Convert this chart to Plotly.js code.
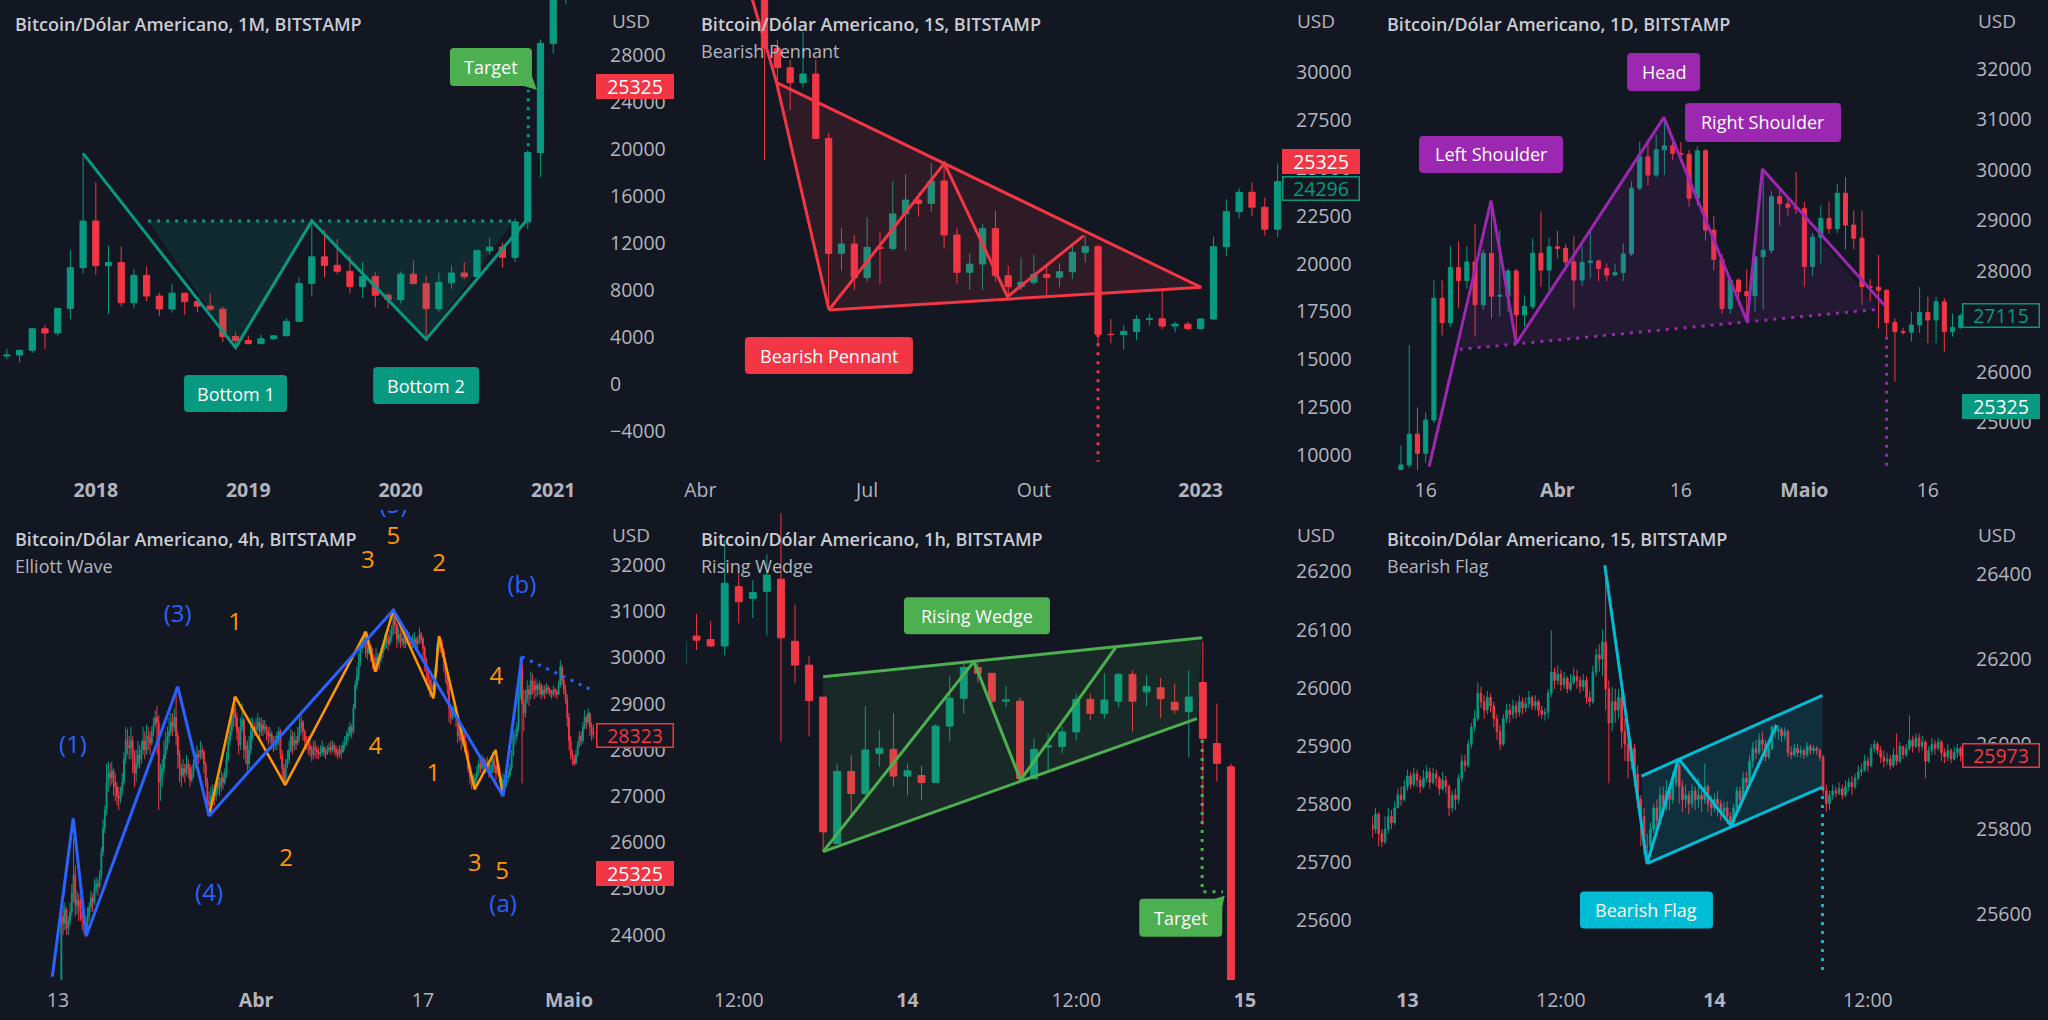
<!DOCTYPE html>
<html><head><meta charset="utf-8">
<script src="https://cdn.plot.ly/plotly-3.0.1.min.js"></script>
<style>html,body{margin:0;padding:0;background:#131722;} #chart{width:2048px;height:1020px;}</style>
</head><body><div id="chart"></div>
<script>
// ================= DATA =================
// Panel 1: monthly candles, x index 0 = Jun 2017
const p1_open  = [2380,2460,2870,4700,4340,6440,9900,13870,10070,10330,6920,9240,7490,6390,7730,7010,6630,6370,4040,3700,3440,3850,4100,5330,8560,10820,10100,9590,8290,9150,7560,7190,9350,8540,6410,8630,9450,9140,11350,11650,10780,13800,19700,28990,33100];
const p1_high  = [2980,2950,4750,5000,6450,11400,19660,17180,11780,11700,9770,9990,7770,8500,7760,7410,7680,6580,4400,4100,4200,4130,5630,9070,13880,13130,12330,10950,10370,9510,7750,9580,10500,9190,9460,10070,10380,11440,12470,12050,14100,19900,29300,41950,58300];
const p1_low   = [2100,1850,2650,2970,4100,5520,9400,9300,5930,6600,6430,7050,5780,6070,5880,6110,6200,3560,3120,3350,3390,3730,4090,5330,7450,9070,9350,7730,7300,6530,6430,6860,8450,3800,6150,8110,8900,8970,11000,9880,10380,13200,17600,28130,32300];
const p1_close = [2460,2870,4700,4340,6440,9900,13870,10070,10330,6920,9240,7490,6390,7730,7010,6630,6370,4040,3700,3440,3850,4100,5330,8560,10820,10100,9590,8290,9150,7560,7190,9350,8540,6410,8630,9450,9140,11350,11650,10780,13800,19700,28990,33100,45200];
const p1_tickpos = [7, 19, 31, 43];
const p1_ticktext = ['<b>2018</b>','<b>2019</b>','<b>2020</b>','<b>2021</b>'];
const p1_yticks = [-4000,0,4000,8000,12000,16000,20000,24000,28000];
const p1_wave_x = [6, 18, 24, 33, 41.04], p1_wave_y = [19630, 3092, 13870, 3800, 14100];
const p1_fill_x = [11.12, 18, 24, 33, 39.9], p1_fill_y = [13870, 3092, 13870, 3800, 13870];
const p1_neck_x = [11.12, 39.9], p1_neck_y = [13870, 13870];
const p1_tgt_x = [41.04, 41.04], p1_tgt_y = [14100, 25020];

// Panel 2: weekly candles, x index 0 = week of 4 Apr 2022 (data from index 3)
const p2_first = 3;
const p2_open  = [39400,38500,34000,31250,30240,29460,29910,26550,20540,21030,19270,20855,20800,22600,23330,23150,24320,21500,19550,19980,21830,19370,18800,19030,19440,19290,19580,20590,20890,16310,16300,16460,17090,17120,16740,16840,16610,17110,20890,22720,23730,22950,21800];
const p2_high  = [40800,40000,34300,31690,30640,32125,30650,26810,21880,21500,22420,21640,24290,24690,23680,25240,25240,21880,20540,22070,22770,19880,20330,20470,19990,20020,21060,21500,21010,17110,16800,17300,17390,18650,16960,16960,17150,21400,23360,23940,24250,23450,25240];
const p2_low   = [37600,33700,25420,28990,28030,29215,26500,17580,19630,18620,19060,18940,20680,20680,22460,22700,20800,18970,18620,18620,19060,18280,18620,18890,18350,18770,19200,20070,15720,15840,15520,16000,16780,16570,16400,16500,16560,17060,20400,22370,22490,21480,21380];
const p2_close = [38500,34000,31250,30240,29460,29910,26550,20540,21030,19270,20855,20800,22600,23330,23150,24320,21500,19550,19980,21830,19370,18800,19030,19440,19290,19580,20590,20890,16310,16300,16460,17090,17120,16740,16840,16610,17110,20890,22720,23730,22950,21800,24296];
const p2_tickpos = [0, 13, 26, 39];
const p2_ticktext = ['Abr','Jul','Out','<b>2023</b>'];
const p2_yticks = [10000,12500,15000,17500,20000,22500,25000,27500,30000];
const p2_pole_x = [4.07, 5.94, 10.02], p2_pole_y = [33780, 29460, 17580];
const p2_up_x = [5.94, 39.05], p2_up_y = [29460, 18764];
const p2_lo_x = [10.02, 39.05], p2_lo_y = [17580, 18764];
const p2_zig_x = [10.02, 19.02, 23.94, 29.88], p2_zig_y = [17580, 25244, 18276, 21464];
const p2_fill_x = [5.94, 39.05, 10.02], p2_fill_y = [29460, 18764, 17580];
const p2_tgt_x = [31, 31], p2_tgt_y = [16310, 9650];

// Panel 3: daily candles, x = days from 16 Mar 2023 (data from -3)
const p3_first = -3;
const p3_open  = [22100,24160,24770,24390,25050,27460,26980,28070,27810,28180,27330,28350,27500,27500,28000,27130,27300,28350,28020,28480,28450,28180,27820,28170,28200,28050,27920,27970,28340,29640,30260,29900,30400,30480,30330,30310,29440,30380,28810,28230,27260,27820,27590,27510,28280,28410,29470,29330,29260,29240,28090,28670,29040,28840,29540,28910,28650,27690,27680,27620,26980,26800,26790,26930,27180,27030,27390,26800,26880];
const p3_high  = [24550,26535,25300,25200,27820,27820,28490,28590,28490,28930,28420,29390,28810,28050,28040,27520,28650,29180,28660,28800,28530,28680,28500,28780,28230,28150,28150,28550,29780,30560,30560,30700,31027,30600,30550,30400,30470,30420,29090,28330,27890,27850,28030,28310,30020,29580,29650,29450,29960,29370,28750,29290,29370,29720,29860,29200,29190,27840,28320,27620,27060,26880,27200,27680,27490,27490,27460,27160,27160];
const p3_low   = [21900,24100,23950,24200,24990,26720,26900,27260,27650,26700,27230,27060,27100,27190,26570,26900,27250,27690,27550,28250,28000,27260,27700,27850,27800,27800,27900,27800,28300,29600,29690,29850,29900,30200,30150,29270,29300,28600,28020,27150,27150,27330,27000,27200,27240,28350,28900,29100,29130,27690,27900,28150,28740,28750,28430,28430,27330,27400,26860,26700,25810,26740,26600,26770,26570,26570,26400,26700,26860];
const p3_close = [24160,24770,24390,25050,27460,26980,28070,27810,28180,27330,28350,27500,27520,28000,27130,27300,28350,28020,28480,28450,28180,27820,28170,28200,28050,27920,27970,28340,29640,30260,29900,30400,30480,30330,30310,29440,30380,28810,28230,27260,27820,27590,27510,28280,28410,29470,29330,29260,29240,28090,28670,29040,28840,29540,28910,28650,27690,27680,27620,26980,26800,26790,26930,27180,27030,27390,26800,26880,27115];
const p3_tickpos = [0, 16, 31, 46, 61];
const p3_ticktext = ['16','<b>Abr</b>','16','<b>Maio</b>','16'];
const p3_yticks = [25000,26000,27000,28000,29000,30000,31000,32000];
const p3_hs_x = [0.42, 7.94, 11.0, 28.94, 39.05, 40.9, 55.71], p3_hs_y = [24126, 29393, 26568, 31043, 26997, 30020, 27327];
const p3_neck_x = [4.13, 54.92], p3_neck_y = [26449, 27241];
const p3_fill_x = [4.13, 7.94, 11.0, 28.94, 39.05, 40.9, 54.92], p3_fill_y = [26449, 29393, 26568, 31043, 26997, 30020, 27241];
const p3_tgt_x = [55.98, 55.98], p3_tgt_y = [26700, 24126];

// Panel 4: 4h candles, x = days from 13 Mar 2023 00:00, 6 candles per day
const p4_firstOpen = 22100;
const p4_close = [
22350,22500,24400,24250,24550,24150, 24300,24500,24900,25300,24650,24750, 24600,24500,24350,24250,24100,24400,
24600,24800,24700,25000,25100,25050, 25300,25800,26300,26700,27300,27500, 27400,27550,27300,27200,27000,26950,
27100,27300,27800,28200,28100,28050, 28200,27900,27500,27700,27900,27800, 28000,28200,28000,28300,28250,28150,
28400,28550,28700,28600,27300,27400, 27600,27900,28100,28300,28400,28600, 28500,28700,28300,27900,27600,27450,
27600,27500,27700,27600,27350,27500, 27700,27800,27900,27850,28000,27950, 27700,27300,26900,26800,27000,27050,
27000,27150,27300,27200,27400,27300, 27500,27800,28200,28400,28700,28900, 28700,28400,28100,28500,28650,28000,
28100,27700,28000,28400,28500,28450, 28500,28600,28400,28550,28450,28500, 28400,28300,28350,28200,28100,28150,
28300,28400,27900,27600,27300,27700, 27800,28000,28300,28100,28200,28150, 28300,28500,28600,28400,28200,28150,
28100,28000,27900,28050,28000,27950, 27900,27950,28050,27950,27900,28000, 28050,28000,28100,28000,27950,27900,
28000,27950,28100,28150,28300,28350, 28500,28400,28900,29400,29600,29900, 30200,30300,30500,30200,30100,30250,
30100,29900,29750,30000,29850,29950, 30100,30200,30350,30400,30300,30450, 30600,30900,30700,30400,30500,30350,
30400,30300,30350,30450,30400,30300, 30350,30400,30300,30350,30500,30400, 30200,29900,29700,29500,29300,29400,
29300,29700,30200,30400,30300,30150, 29900,29600,29400,28900,28700,28800, 28900,28700,28300,28400,28200,28300,
28100,27900,27600,27400,27300,27250, 27400,27500,27700,27600,27800,27750, 27600,27700,27500,27550,27800,27650,
27500,27600,27400,27200,27350,27300, 27400,27450,27600,27900,28300,28300, 28500,29200,29800,29000,28800,29100,
29300,29200,29500,29400,29300,29400, 29300,29400,29200,29300,29250,29350, 29300,29250,29200,29300,29250,29200,
29400,29800,29500,29300,29100,28700, 28200,27900,27800,27700,27900,28100, 28300,28200,28500,28700,28600,28800,
28500,28400,28323];
const p4_high = [
22500,22700,24600,24650,24700,24600, 24400,24700,25100,26100,25500,24950, 24900,24800,24700,24500,24400,24600,
24700,24950,24900,25200,25250,25200, 25400,25900,26500,26800,27700,27750, 27700,27750,27600,27500,27300,27200,
27200,27500,27950,28500,28450,28300, 28500,28300,28000,28000,28200,28100, 28200,28500,28400,28550,28500,28400,
28500,28700,28850,28950,28750,27700, 27800,28200,28400,28500,28700,28800, 28800,28900,29370,28400,28000,27700,
27800,27700,27900,27800,27700,27650, 27800,27950,28100,28000,28200,28100, 28000,27750,27400,27100,27200,27250,
27250,27300,27450,27400,27550,27500, 27600,27950,28300,28600,28900,29150, 29000,28800,28500,28700,29000,28700,
28300,28200,28300,28700,28700,28600, 28700,28800,28700,28700,28650,28650, 28550,28500,28500,28400,28300,28300,
28400,28500,28450,28000,27700,27800, 28000,28200,28450,28400,28400,28300, 28500,28700,28750,28650,28450,28300,
28300,28200,28100,28200,28200,28100, 28050,28100,28200,28100,28050,28100, 28150,28200,28200,28150,28100,28050,
28100,28100,28200,28300,28400,28500, 28600,28550,29000,29500,29800,30100, 30400,30450,30560,30550,30350,30400,
30300,30200,30050,30200,30100,30100, 30200,30300,30500,30600,30500,30600, 30700,31027,30950,30750,30650,30600,
30550,30450,30500,30600,30550,30450, 30500,30550,30450,30450,30650,30550, 30450,30250,30000,29800,29600,29550,
29500,29800,30300,30464,30450,30400, 30200,30000,29700,29450,29000,28950, 29000,28950,28800,28600,28500,28450,
28350,28200,28000,27700,27500,27450, 27500,27650,27800,27800,27900,27850, 27800,27850,27700,27700,27950,27850,
27700,27750,27650,27450,27500,27450, 27500,27550,27700,28000,28400,28450, 28600,29400,30017,29900,29300,29300,
29500,29400,29700,29650,29500,29550, 29450,29500,29450,29400,29400,29450, 29400,29350,29300,29400,29350,29300,
29500,29945,29850,29550,29400,29200, 28800,28300,28000,27900,28000,28200, 28400,28400,28600,28860,28750,28900,
28800,28600,28550];
const p4_low = [
21900,22200,22450,24000,24100,24000, 24000,24200,24400,24700,24400,24450, 24300,24300,24100,24000,23950,24050,
24300,24500,24500,24650,24900,24850, 25000,25200,25700,26200,26600,27100, 27200,27250,27000,26900,26800,26700,
26850,27000,27250,27700,27900,27800, 27800,27500,27200,27300,27600,27600, 27700,27900,27800,27900,28000,27900,
28100,28300,28500,27900,26700,26900, 27200,27500,27800,28000,28150,28300, 28300,28400,28100,27600,27300,27200,
27400,27300,27450,27400,27200,27300, 27400,27600,27700,27700,27800,27800, 27500,27200,26600,26600,26750,26850,
26800,26900,27050,27000,27100,27150, 27250,27400,27750,28100,28300,28500, 28500,28200,27900,28000,28400,27800,
27700,27550,27600,27900,28200,28300, 28300,28400,28250,28300,28300,28350, 28200,28100,28150,28000,27950,28000,
28000,28100,27800,27400,27240,27250, 27600,27700,27950,27900,28000,28000, 28100,28200,28350,28200,28100,28000,
27900,27850,27750,27800,27850,27800, 27800,27850,27900,27850,27800,27900, 27950,27900,27950,27900,27850,27800,
27850,27800,27950,28000,28100,28200, 28300,28250,28350,28900,29300,29500, 29800,30100,30200,30000,29950,30050,
29900,29750,29690,29700,29700,29750, 29900,30000,30150,30200,30150,30250, 30350,30500,30500,30200,30300,30200,
30250,30200,30200,30300,30250,30200, 30200,30250,30200,30200,30300,30300, 30000,29700,29500,29300,29150,29150,
29117,29200,29650,30100,30100,30000, 29700,29450,29200,28600,28550,28650, 28700,28500,28150,28200,28000,28100,
27950,27800,27500,27250,27150,27150, 27200,27300,27450,27500,27550,27600, 27500,27500,27400,27400,27500,27500,
27350,27450,27300,27000,27100,27150, 27200,27300,27400,27550,27850,28100, 28200,28400,29100,27280,28400,28700,
29000,28950,29100,29200,29100,29150, 29150,29200,29100,29150,29100,29200, 29200,29150,29100,29150,29150,29100,
29200,29350,29400,29200,29000,28500, 28000,27800,27670,27650,27700,27850, 28050,28100,28150,28450,28450,28550,
28300,28200,28250];
const p4_tickpos = [0, 19, 35, 49];
const p4_ticktext = ['13','<b>Abr</b>','17','<b>Maio</b>'];
const p4_yticks = [24000,25000,26000,27000,28000,29000,30000,31000,32000];
const p4_wave_x = [-0.54, 1.47, 2.72, 11.49, 14.5, 32.16, 42.68, 44.48], p4_wave_y = [23095, 26521, 23975, 29368, 26571, 31027, 27004, 30017];
const p4_proj_x = [44.48, 51.2], p4_proj_y = [30017, 29296];
const p4_sub_x = [14.5, 17.0, 21.8, 29.53, 30.44, 32.16, 36.0, 36.54, 39.96, 41.96, 42.68];
const p4_sub_y = [26571, 29152, 27241, 30558, 29693, 31027, 29117, 30464, 27148, 27998, 27004];
const p4_blue_labels = [['(1)',1.45,28070],['(3)',11.49,30897],['(4)',14.49,24862],['(5)',32.16,33255],['(a)',42.68,24624],['(b)',44.48,31518]];
const p4_orange_labels = [['1',17.0,30724],['2',21.87,25619],['3',29.73,32072],['4',30.44,28035],['5',32.16,32578],['1',36.0,27458],['2',36.54,32000],['3',39.96,25511],['4',42.05,29549],['5',42.6,25344]];

// Panel 5: 1h candles, x = hours from 13th 12:00 (data from -4)
const p5_first = -4;
const p5_open  = [26040,26089,26083,26072,26174,26154,26166,26187,26080,26039,25984,25732,25856,25818,25887,25894,25848,25849,25837,25934,25982,26035,26025,25977,25977,25844,25898,25899,25924,25980,25956,25977,26023,25993,26000,25975,25959,26009,25904,25864];
const p5_high  = [26085,26127,26115,26254,26200,26185,26230,26300,26143,26054,25984,25870,25884,25968,25927,25956,25870,25866,25937,26020,26045,26048,26025,26003,25983,25913,25922,25933,25990,25990,26025,26025,26030,26022,26017,26007,26030,26079,25973,25870];
const p5_low   = [26030,26065,26070,26056,26111,26120,26090,25907,26008,25916,25718,25732,25781,25815,25864,25830,25815,25807,25837,25908,25955,26009,25965,25966,25840,25843,25858,25887,25910,25944,25947,25966,25925,25968,25948,25955,25880,25764,25839,25400];
const p5_close = [26080,26082,26072,26180,26148,26164,26194,26086,26039,25978,25752,25856,25818,25893,25896,25848,25857,25837,25934,25982,26035,26025,25977,25979,25844,25894,25900,25924,25980,25956,25979,26023,25977,26002,25981,25962,25984,25913,25870,25480];
const p5_tickpos = [0, 12, 24, 36];
const p5_ticktext = ['12:00','<b>14</b>','12:00','<b>15</b>'];
const p5_yticks = [25600,25700,25800,25900,26000,26100,26200];
const p5_up_x = [6.0, 32.96], p5_up_y = [26019, 26086];
const p5_lo_x = [6.0, 32.58], p5_lo_y = [25718, 25947];
const p5_fill_x = [6.0, 32.96, 32.58, 6.0], p5_fill_y = [26019, 26086, 25947, 25718];
const p5_zig_x = [6.0, 16.72, 20.04, 26.85], p5_zig_y = [25718, 26045, 25841, 26071];
const p5_tgt_x = [32.95, 32.95, 34.44], p5_tgt_y = [25910, 25649, 25649];

// Panel 6: 15-min candles, x = hours from 13th 00:00 (data from -2.75, 4 per hour)
const p6_first = -2.75;
const p6_firstOpen = 25810;
const p6_close = [
25800,25835,25790,
25770,25800,25830,25815, 25850,25880,25870,25900, 25925,25905,25930,25915, 25900,25920,25935,25910,
25930,25920,25895,25915, 25900,25850,25880,25870, 25920,25960,25950,26000, 26040,26060,26120,26100,
26080,26110,26090,26060, 26030,26000,26060,26080, 26070,26090,26075,26100, 26085,26095,26110,26090,
26100,26080,26070,26075, 26120,26170,26150,26165, 26140,26155,26130,26145, 26160,26150,26135,26150,
26110,26100,26170,26210, 26200,26240,26130,26050, 26100,26080,26110,26030, 26000,25960,25990,25930,
25870,25830,25760,25760, 25800,25850,25820,25880, 25860,25890,25870,25910, 25950,25900,25870,25880,
25860,25890,25870,25880, 25870,25900,25860,25850, 25870,25860,25840,25850, 25830,25815,25850,25890,
25870,25920,25910,25960, 25990,25980,26010,26000, 25970,25990,26040,26030, 26035,26020,26030,25980,
25975,25990,25980,25985, 25975,25995,25985,25990, 25985,25970,25890,25860, 25880,25890,25885,25895,
25880,25900,25910,25900, 25920,25935,25940,25960, 25950,25990,26000,25985, 25970,25960,25965,25950,
25975,25960,25995,25975, 25990,26010,25995,26015, 25995,26005,25960,25985, 26000,25990,26005,25980,
25970,25985,25965,25980,
25990,25973];
const p6_high = [
25830,25850,25840,
25800,25830,25850,25845, 25865,25895,25900,25915, 25940,25935,25945,25940, 25925,25940,25950,25945,
25945,25940,25925,25935, 25925,25905,25890,25895, 25930,25975,25975,26010, 26050,26080,26145,26135,
26115,26125,26120,26100, 26070,26045,26070,26095, 26095,26105,26100,26115, 26110,26110,26125,26115,
26115,26105,26090,26085, 26130,26268,26180,26185, 26175,26170,26160,26165, 26180,26175,26160,26165,
26160,26125,26185,26225, 26235,26270,26421,26150, 26135,26130,26130,26120, 26060,26030,26010,26000,
25950,25880,25850,25790, 25815,25860,25870,25900, 25900,25915,25905,25935, 25966,25960,25915,25905,
25890,25905,25900,25920, 25890,25955,25905,25880, 25885,25890,25870,25865, 25865,25840,25860,25900,
25900,25935,25935,25975, 26005,26010,26025,26030, 26010,26005,26045,26048, 26045,26040,26040,26035,
25995,26000,26000,25995, 25990,26005,26000,25998, 25995,25990,25975,25905, 25890,25905,25900,25910,
25905,25915,25920,25925, 25930,25950,25955,25975, 25970,26000,26010,26005, 25995,25985,25980,25975,
25990,26025,26005,25995, 26000,26068,26020,26025, 26025,26020,26010,25995, 26015,26010,26015,26010,
25990,26000,25990,25995,
26000,25995];
const p6_low = [
25780,25790,25760,
25758,25765,25790,25800, 25810,25850,25855,25865, 25890,25895,25900,25900, 25885,25895,25910,25895,
25905,25900,25880,25890, 25885,25830,25840,25845, 25860,25910,25935,25945, 25990,26030,26055,26085,
26060,26070,26075,26040, 26010,25986,25995,26050, 26050,26060,26060,26065, 26070,26075,26085,26080,
26080,26065,26060,26055, 26060,26110,26130,26140, 26125,26130,26120,26125, 26140,26130,26120,26125,
26095,26088,26095,26160, 26170,26160,26080,25908, 26030,26050,26060,25990, 25960,25920,25940,25900,
25850,25760,25740,25719, 25740,25790,25806,25810, 25830,25845,25845,25860, 25900,25860,25840,25850,
25835,25850,25845,25850, 25840,25860,25840,25830, 25840,25830,25820,25825, 25812,25809,25810,25845,
25855,25865,25890,25900, 25945,25965,25975,25985, 25960,25965,25985,26015, 26010,26005,26010,25970,
25965,25970,25970,25970, 25965,25970,25975,25978, 25975,25960,25880,25841, 25845,25870,25875,25880,
25870,25875,25890,25880, 25895,25915,25925,25935, 25935,25945,25980,25975, 25955,25945,25950,25940,
25945,25950,25955,25965, 25970,25985,25980,25990, 25980,25985,25920,25955, 25975,25975,25985,25960,
25955,25960,25955,25962,
25968,25960];
const p6_tickpos = [0, 12, 24, 36];
const p6_ticktext = ['<b>13</b>','12:00','<b>14</b>','12:00'];
const p6_yticks = [25600,25800,26000,26200,26400];
const p6_pole_x = [15.43, 18.73], p6_pole_y = [26421, 25719];
const p6_up_x = [18.29, 32.45], p6_up_y = [25925, 26115];
const p6_lo_x = [18.73, 32.45], p6_lo_y = [25719, 25899];
const p6_fill_x = [18.29, 32.45, 32.45, 18.73], p6_fill_y = [25925, 26115, 25899, 25719];
const p6_zig_x = [18.73, 21.2, 25.3, 28.87], p6_zig_y = [25719, 25966, 25809, 26045];
const p6_tgt_x = [32.45, 32.45], p6_tgt_y = [25899, 25460];

// ================= STYLE / LAYOUT =================
const W = 2048, H = 1020;
const BG = '#131722', UP = '#089981', DN = '#f23645';
const TICK = '#b2b5be', TITLE = '#c9ccd4';
const FONT = '"Open Sans", "Noto Sans", sans-serif';
const BLUE = '#2962ff', ORANGE = '#ff9800', GREEN = '#4caf50', PURPLE = '#9c27b0', CYAN = '#00bcd4';

const PANELS = [
  {x0:0,    x1:596,  y0:0,   y1:470, xr:[-0.54, 46.37], yr:[-7319, 32680]},
  {x0:686,  x1:1282, y0:0,   y1:470, xr:[-1.12, 45.34], yr:[9218, 33780]},
  {x0:1372, x1:1962, y0:0,   y1:470, xr:[-6.52, 65.15], yr:[24060, 33366]},
  {x0:0,    x1:596,  y0:510, y1:980, xr:[-5.55, 51.59], yr:[23024, 33190]},
  {x0:686,  x1:1282, y0:510, y1:980, xr:[-3.75, 38.63], yr:[25497, 26306]},
  {x0:1372, x1:1962, y0:510, y1:980, xr:[-2.77, 43.36], yr:[25445, 26551]},
];
const sfx = n => (n === 1 ? '' : String(n));
const traces = [];
const annotations = [];
const shapes = [];
const layout = {
  width: W, height: H, margin: {l:0, r:0, t:0, b:0},
  paper_bgcolor: BG, plot_bgcolor: BG, showlegend: false, hovermode: false,
  font: {family: FONT, color: TICK},
};

function setAxes(n, tickpos, ticktext, yticks) {
  const p = PANELS[n-1];
  const tf = {family: FONT, size: 19.5, color: TICK};
  layout['xaxis' + sfx(n)] = {
    domain: [p.x0 / W, p.x1 / W], range: p.xr, anchor: 'y' + sfx(n),
    showgrid: false, zeroline: false, showline: false, ticks: '',
    tickmode: 'array', tickvals: tickpos, ticktext: ticktext, tickfont: tf,
    rangeslider: {visible: false}, fixedrange: true, automargin: false, ticklabelstandoff: 6,
  };
  layout['yaxis' + sfx(n)] = {
    domain: [1 - p.y1 / H, 1 - p.y0 / H], range: p.yr, anchor: 'x' + sfx(n), side: 'right',
    showgrid: false, zeroline: false, showline: false, ticks: '',
    tickmode: 'array', tickvals: yticks, tickformat: 'd', tickfont: tf,
    fixedrange: true, automargin: false, ticklabelstandoff: 13,
  };
}

function seq(first, step, count) { const a = []; for (let i = 0; i < count; i++) a.push(first + i * step); return a; }

function addCandles(n, x, o, h, l, c) {
  const hh = h.map((v, i) => Math.max(v, o[i], c[i]));
  const ll = l.map((v, i) => Math.min(v, o[i], c[i]));
  traces.push({
    type: 'candlestick', xaxis: 'x' + sfx(n), yaxis: 'y' + sfx(n),
    x: x, open: o, high: hh, low: ll, close: c,
    increasing: {line: {color: UP, width: 1}, fillcolor: UP},
    decreasing: {line: {color: DN, width: 1}, fillcolor: DN},
    whiskerwidth: 0, hoverinfo: 'skip', showlegend: false,
  });
}
function addLine(n, xs, ys, color, width, dash) {
  traces.push({type: 'scatter', mode: 'lines', xaxis: 'x' + sfx(n), yaxis: 'y' + sfx(n),
    x: xs, y: ys, line: {color: color, width: width, dash: dash || 'solid'}, hoverinfo: 'skip', showlegend: false});
}
function addFill(n, xs, ys, fillcolor) {
  traces.push({type: 'scatter', mode: 'lines', xaxis: 'x' + sfx(n), yaxis: 'y' + sfx(n),
    x: xs, y: ys, fill: 'toself', fillcolor: fillcolor, line: {width: 0, color: 'rgba(0,0,0,0)'}, hoverinfo: 'skip', showlegend: false});
}
// rounded label box drawn as a pixel-sized shape anchored at a data point, text as annotation
function roundRectPath(w, h, r) {
  const a = w / 2, b = h / 2;
  return `M${-a + r},${-b} L${a - r},${-b} Q${a},${-b} ${a},${-b + r} L${a},${b - r} Q${a},${b} ${a - r},${b} ` +
         `L${-a + r},${b} Q${-a},${b} ${-a},${b - r} L${-a},${-b + r} Q${-a},${-b} ${-a + r},${-b} Z`;
}
function labelBox(n, x, y, text, bg, w, h, tail) {
  shapes.push({type: 'path', xref: 'x' + sfx(n), yref: 'y' + sfx(n), xsizemode: 'pixel', ysizemode: 'pixel',
    xanchor: x, yanchor: y, path: roundRectPath(w, h, 4), fillcolor: bg, line: {width: 0}, layer: 'above'});
  if (tail) {
    shapes.push({type: 'path', xref: 'x' + sfx(n), yref: 'y' + sfx(n), xsizemode: 'pixel', ysizemode: 'pixel',
      xanchor: x, yanchor: y, path: tail, fillcolor: bg, line: {width: 0}, layer: 'above'});
  }
  annotations.push({xref: 'x' + sfx(n), yref: 'y' + sfx(n), x: x, y: y, text: text, showarrow: false,
    xanchor: 'center', yanchor: 'middle', font: {family: FONT, size: 18, color: '#ffffff'}});
}
function priceTag(n, y, text, color, filled) {
  annotations.push({xref: 'x' + sfx(n) + ' domain', yref: 'y' + sfx(n), x: 1, y: y, text: text, showarrow: false,
    xanchor: 'left', yanchor: 'middle', bgcolor: filled ? color : BG, bordercolor: color, borderwidth: 1.5, borderpad: 0,
    width: 75, height: 22, font: {family: FONT, size: 19.5, color: filled ? '#ffffff' : color}});
}
function pageText(px, py, text, size, color, weight, anchor) {
  annotations.push({xref: 'paper', yref: 'paper', x: px / W, y: 1 - py / H, text: text, showarrow: false,
    xanchor: anchor || 'left', yanchor: 'middle', font: {family: FONT, size: size, color: color, weight: weight || 400}});
}
// wave labels as clipped text traces (so a label at the panel edge is cut like in the reference)
function waveTexts(n, labels, color) {
  traces.push({type: 'scatter', mode: 'text', xaxis: 'x' + sfx(n), yaxis: 'y' + sfx(n),
    x: labels.map(l => l[1]), y: labels.map(l => l[2]), text: labels.map(l => l[0]),
    textposition: 'middle center', textfont: {family: FONT, size: 24, color: color},
    cliponaxis: true, hoverinfo: 'skip', showlegend: false});
}

// ---------- Panel 1 ----------
setAxes(1, p1_tickpos, p1_ticktext, p1_yticks);
addFill(1, p1_fill_x, p1_fill_y, 'rgba(8,153,129,0.15)');
addCandles(1, seq(0, 1, p1_close.length), p1_open, p1_high, p1_low, p1_close);
addLine(1, p1_neck_x, p1_neck_y, UP, 3, '3px,6px');
addLine(1, p1_wave_x, p1_wave_y, UP, 3);
addLine(1, p1_tgt_x, p1_tgt_y, UP, 3, '3px,6px');
labelBox(1, 18.0, -809, 'Bottom 1', UP, 103, 37);
labelBox(1, 33.0, -128, 'Bottom 2', UP, 106, 37);
labelBox(1, 38.1, 26979, 'Target', GREEN, 82, 38, 'M41,-9 L46,-23 L33,-19 Z');
priceTag(1, 25325, '25325', DN, true);

// ---------- Panel 2 ----------
setAxes(2, p2_tickpos, p2_ticktext, p2_yticks);
addFill(2, p2_fill_x, p2_fill_y, 'rgba(242,54,69,0.13)');
addCandles(2, seq(p2_first, 1, p2_close.length), p2_open, p2_high, p2_low, p2_close);
addLine(2, p2_pole_x, p2_pole_y, DN, 3);
addLine(2, p2_up_x, p2_up_y, DN, 3);
addLine(2, p2_lo_x, p2_lo_y, DN, 3);
addLine(2, p2_zig_x, p2_zig_y, DN, 3);
addLine(2, p2_tgt_x, p2_tgt_y, DN, 3, '3px,6px');
labelBox(2, 10.02, 15201, 'Bearish Pennant', DN, 168, 37);
priceTag(2, 25325, '25325', DN, true);
priceTag(2, 23955, '24296', UP, false);

// ---------- Panel 3 ----------
setAxes(3, p3_tickpos, p3_ticktext, p3_yticks);
addFill(3, p3_fill_x, p3_fill_y, 'rgba(156,39,176,0.12)');
addCandles(3, seq(p3_first, 1, p3_close.length), p3_open, p3_high, p3_low, p3_close);
addLine(3, p3_neck_x, p3_neck_y, PURPLE, 3, '3px,6px');
addLine(3, p3_hs_x, p3_hs_y, PURPLE, 3);
addLine(3, p3_tgt_x, p3_tgt_y, PURPLE, 3, '3px,6px');
labelBox(3, 7.94, 30307, 'Left Shoulder', PURPLE, 144, 37);
labelBox(3, 28.9, 31941, 'Head', PURPLE, 73, 38);
labelBox(3, 40.98, 30941, 'Right Shoulder', PURPLE, 156, 39);
priceTag(3, 27115, '27115', UP, false);
priceTag(3, 25325, '25325', UP, true);

// ---------- Panel 4 ----------
setAxes(4, p4_tickpos, p4_ticktext, p4_yticks);
const p4_open = [p4_firstOpen].concat(p4_close.slice(0, -1));
addCandles(4, seq(0, 1/6, p4_close.length), p4_open, p4_high, p4_low, p4_close);
addLine(4, p4_sub_x, p4_sub_y, ORANGE, 2.5);
addLine(4, p4_wave_x, p4_wave_y, BLUE, 3);
addLine(4, p4_proj_x, p4_proj_y, BLUE, 3, '3px,6px');
waveTexts(4, p4_blue_labels, BLUE);
waveTexts(4, p4_orange_labels, ORANGE);
priceTag(4, 28323, '28323', DN, false);
priceTag(4, 25325, '25325', DN, true);

// ---------- Panel 5 ----------
setAxes(5, p5_tickpos, p5_ticktext, p5_yticks);
addFill(5, p5_fill_x, p5_fill_y, 'rgba(76,175,80,0.12)');
addCandles(5, seq(p5_first, 1, p5_close.length), p5_open, p5_high, p5_low, p5_close);
addLine(5, p5_up_x, p5_up_y, GREEN, 3);
addLine(5, p5_lo_x, p5_lo_y, GREEN, 3);
addLine(5, p5_zig_x, p5_zig_y, GREEN, 3);
addLine(5, p5_tgt_x, p5_tgt_y, GREEN, 3, '3px,6px');
labelBox(5, 16.94, 26124, 'Rising Wedge', GREEN, 146, 37);
labelBox(5, 31.43, 25604, 'Target', GREEN, 83, 38, 'M34,19 L44,22 L41,9 Z');

// ---------- Panel 6 ----------
setAxes(6, p6_tickpos, p6_ticktext, p6_yticks);
addFill(6, p6_fill_x, p6_fill_y, 'rgba(0,188,212,0.15)');
const p6_open = [p6_firstOpen].concat(p6_close.slice(0, -1));
addCandles(6, seq(p6_first, 0.25, p6_close.length), p6_open, p6_high, p6_low, p6_close);
addLine(6, p6_pole_x, p6_pole_y, CYAN, 3);
addLine(6, p6_up_x, p6_up_y, CYAN, 3);
addLine(6, p6_lo_x, p6_lo_y, CYAN, 3);
addLine(6, p6_zig_x, p6_zig_y, CYAN, 3);
addLine(6, p6_tgt_x, p6_tgt_y, CYAN, 3, '3px,6px');
labelBox(6, 18.69, 25610, 'Bearish Flag', CYAN, 133, 37);
priceTag(6, 25973, '25973', DN, false);

// ---------- Titles / USD ----------
const titles = [
  ['Bitcoin/Dólar Americano, 1M, BITSTAMP', 13, 23.5, ''],
  ['Bitcoin/Dólar Americano, 1S, BITSTAMP', 699, 23.5, 'Bearish Pennant'],
  ['Bitcoin/Dólar Americano, 1D, BITSTAMP', 1385, 23.5, ''],
  ['Bitcoin/Dólar Americano, 4h, BITSTAMP', 13, 539, 'Elliott Wave'],
  ['Bitcoin/Dólar Americano, 1h, BITSTAMP', 699, 539, 'Rising Wedge'],
  ['Bitcoin/Dólar Americano, 15, BITSTAMP', 1385, 539, 'Bearish Flag'],
];
titles.forEach(t => {
  pageText(t[1], t[2], t[0], 18, TITLE, 600);
  if (t[3]) pageText(t[1], t[2] + 27, t[3], 18, TICK, 400);
});
[[631, 21], [1316, 21], [1997, 21], [631, 535], [1316, 535], [1997, 535]].forEach(p => pageText(p[0], p[1], 'USD', 19, TICK, 400, 'center'));

layout.annotations = annotations;
layout.shapes = shapes;
Plotly.newPlot('chart', traces, layout, {displayModeBar: false, staticPlot: true});
</script></body></html>
